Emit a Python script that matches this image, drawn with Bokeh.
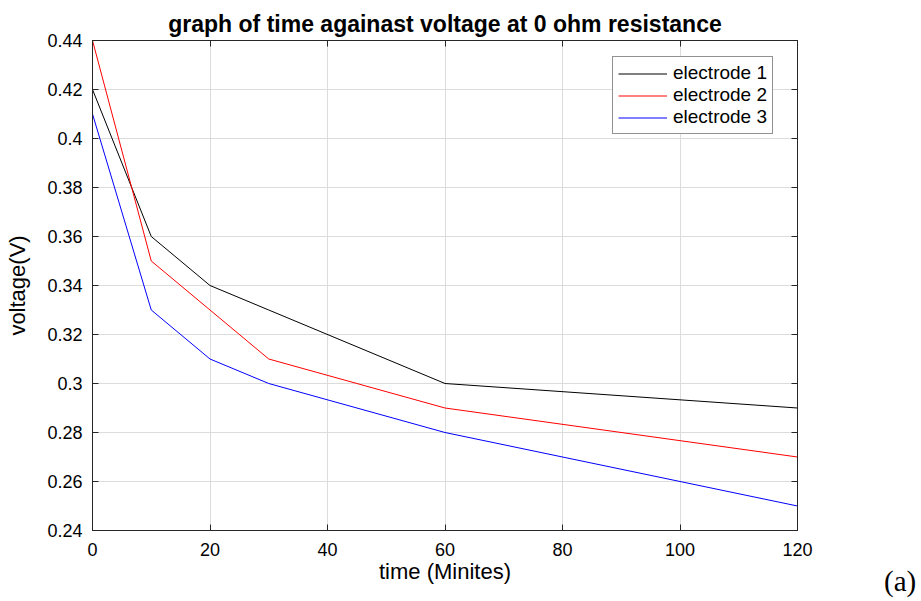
from bokeh.plotting import figure
from bokeh.models import Range1d, LinearAxis, FixedTicker, Legend, LegendItem, Div
from bokeh.layouts import column
from bokeh.embed import file_html
from bokeh.resources import INLINE

time_min = [0, 10, 20, 30, 60, 120]
electrode1 = [0.42, 0.36, 0.34, 0.33, 0.30, 0.29]
electrode2 = [0.44, 0.35, 0.33, 0.31, 0.29, 0.27]
electrode3 = [0.41, 0.33, 0.31, 0.30, 0.28, 0.25]
x_ticks = [0, 20, 40, 60, 80, 100, 120]
y_ticks = [0.24, 0.26, 0.28, 0.30, 0.32, 0.34, 0.36, 0.38, 0.40, 0.42, 0.44]
y_tick_labels = {0.24: "0.24", 0.26: "0.26", 0.28: "0.28", 0.30: "0.3", 0.32: "0.32",
                 0.34: "0.34", 0.36: "0.36", 0.38: "0.38", 0.40: "0.4", 0.42: "0.42", 0.44: "0.44"}

FONT = "Liberation Sans"

p = figure(width=920, height=600, output_backend="svg", toolbar_location=None,
           x_range=Range1d(0, 120), y_range=Range1d(0.24, 0.44),
           min_border_left=92, min_border_right=123, min_border_top=40, min_border_bottom=70,
           title="graph of time againast voltage at 0 ohm resistance")
p.title.text_font = FONT
p.title.text_font_size = "23px"
p.title.text_font_style = "bold"
p.title.text_color = "#000000"
p.title.align = "center"
p.title.offset = 0
p.title.standoff = 8
p.outline_line_color = "#262626"
p.outline_line_width = 1

def style_axis(ax):
    ax.axis_line_color = "#262626"
    ax.major_tick_line_color = "#262626"
    ax.minor_tick_line_color = None
    ax.major_tick_in = 6
    ax.major_tick_out = 0
    ax.major_label_text_font = FONT
    ax.major_label_text_font_size = "18px"
    ax.major_label_text_color = "#000000"
    ax.axis_label_text_font = FONT
    ax.axis_label_text_font_size = "22px"
    ax.axis_label_text_font_style = "normal"
    ax.axis_label_text_color = "#000000"

p.xaxis.ticker = FixedTicker(ticks=x_ticks)
p.yaxis.ticker = FixedTicker(ticks=y_ticks)
p.yaxis.major_label_overrides = y_tick_labels
p.xaxis.axis_label = "time (Minites)"
p.yaxis.axis_label = "voltage(V)"
for ax in p.xaxis + p.yaxis:
    style_axis(ax)
p.xaxis.major_label_standoff = 12
p.yaxis.major_label_standoff = 10
p.xaxis.axis_label_standoff = 0
p.yaxis.axis_label_standoff = 14

top = LinearAxis(ticker=FixedTicker(ticks=x_ticks))
style_axis(top)
top.major_label_overrides = {t: "" for t in x_ticks}
top.major_label_standoff = 0
p.add_layout(top, "above")
right = LinearAxis(ticker=FixedTicker(ticks=y_ticks))
style_axis(right)
right.major_label_overrides = {t: "" for t in y_ticks}
right.major_label_standoff = 0
p.add_layout(right, "right")

p.grid.grid_line_color = "#dcdcdc"
p.grid.grid_line_width = 1
p.xgrid.ticker = FixedTicker(ticks=x_ticks)
p.ygrid.ticker = FixedTicker(ticks=y_ticks)

r1 = p.line(time_min, electrode1, line_color="#000000", line_width=1)
r2 = p.line(time_min, electrode2, line_color="#ff0000", line_width=1)
r3 = p.line(time_min, electrode3, line_color="#0000ff", line_width=1)

legend = Legend(items=[LegendItem(label="electrode 1", renderers=[r1]),
                       LegendItem(label="electrode 2", renderers=[r2]),
                       LegendItem(label="electrode 3", renderers=[r3])],
                location=(520, 396))
legend.margin = 0
legend.border_line_color = "#262626"
legend.border_line_width = 1
legend.background_fill_alpha = 1
legend.label_text_font = FONT
legend.label_text_font_size = "19px"
legend.label_text_color = "#000000"
legend.glyph_width = 49
legend.glyph_height = 21
legend.label_height = 21
legend.spacing = 0
legend.padding = 5
legend.label_standoff = 6
p.add_layout(legend)

tag = Div(text="(a)", margin=(-33, 0, 0, 884),
          styles={"font-family": "Liberation Serif", "font-size": "29px", "color": "#000000",
                  "line-height": "1"})

layout = column(p, tag)

open("out.html", "w").write(file_html(layout, INLINE))
